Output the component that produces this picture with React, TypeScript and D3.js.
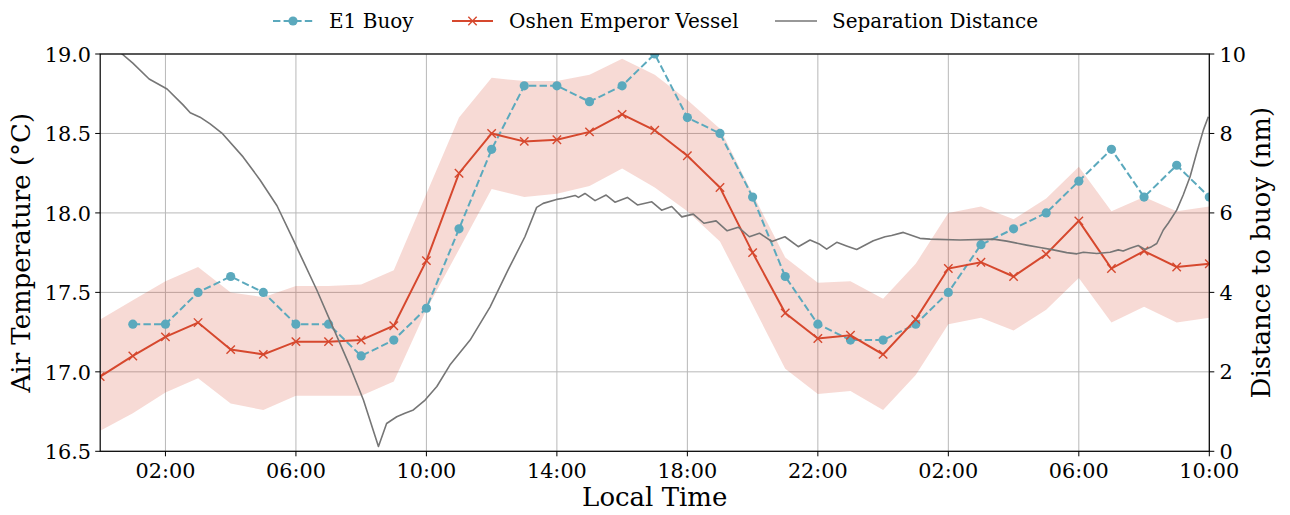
import React from "react";
import * as d3 from "d3";

// ---- data ----
const vesselHours = [0,1,2,3,4,5,6,7,8,9,10,11,12,13,14,15,16,17,18,19,20,21,22,23,24,25,26,27,28,29,30,31,32,33,34];
const vesselTemp = [16.97,17.10,17.22,17.31,17.14,17.11,17.19,17.19,17.20,17.29,17.70,18.25,18.50,18.45,18.46,18.51,18.62,18.52,18.36,18.16,17.75,17.37,17.21,17.23,17.11,17.33,17.65,17.69,17.60,17.74,17.95,17.65,17.76,17.66,17.68];
const bandUpper = [17.33,17.45,17.57,17.66,17.50,17.47,17.54,17.54,17.55,17.64,18.12,18.60,18.85,18.83,18.83,18.87,18.97,18.87,18.71,18.53,18.12,17.72,17.56,17.57,17.46,17.68,18.00,18.04,17.96,18.09,18.29,18.01,18.10,18.01,18.04];
const bandLower = [16.63,16.74,16.87,16.96,16.80,16.76,16.85,16.85,16.85,16.94,17.39,17.77,18.15,18.10,18.12,18.17,18.28,18.16,18.01,17.82,17.42,17.02,16.86,16.88,16.76,16.98,17.30,17.34,17.26,17.39,17.59,17.31,17.41,17.31,17.34];

const buoyHours = [1,2,3,4,5,6,7,8,9,10,11,12,13,14,15,16,17,18,19,20,21,22,23,24,25,26,27,28,29,30,31,32,33,34];
const buoyTemp = [17.3,17.3,17.5,17.6,17.5,17.3,17.3,17.1,17.2,17.4,17.9,18.4,18.8,18.8,18.7,18.8,19.0,18.6,18.5,18.1,17.6,17.3,17.2,17.2,17.3,17.5,17.8,17.9,18.0,18.2,18.4,18.1,18.3,18.1];

const sepHours = [0,0.67,1.0,1.5,2.05,2.54,2.76,3.06,3.37,3.73,4.38,4.9,5.42,5.92,6.21,6.64,7.04,7.66,8.07,8.53,8.78,9.09,9.34,9.6,9.96,10.32,10.72,11.34,11.95,12.5,13.02,13.38,13.58,13.99,14.2,14.56,14.66,14.86,15.17,15.51,15.78,16.16,16.47,16.91,17.21,17.52,17.83,18.18,18.51,18.88,19.22,19.56,19.9,20.21,20.59,20.99,21.4,21.76,22.06,22.27,22.58,22.88,23.19,23.7,24.06,24.26,24.62,25.13,25.44,26.36,27.38,27.79,28.4,28.81,29.22,29.63,29.94,30.14,30.55,30.96,31.21,31.36,31.57,31.82,32.03,32.23,32.39,32.59,32.74,33.0,33.2,33.41,33.61,33.82,33.97];
const sepNm = [10.45,10.0,9.77,9.37,9.12,8.72,8.52,8.41,8.24,8.01,7.41,6.83,6.18,5.32,4.81,4.06,3.30,2.13,1.29,0.12,0.70,0.87,0.96,1.04,1.29,1.63,2.17,2.80,3.63,4.56,5.40,6.14,6.24,6.34,6.37,6.44,6.39,6.49,6.31,6.45,6.27,6.39,6.20,6.28,6.07,6.16,5.90,5.97,5.74,5.80,5.55,5.64,5.40,5.49,5.28,5.40,5.15,5.32,5.21,5.09,5.26,5.17,5.08,5.30,5.40,5.43,5.51,5.36,5.34,5.32,5.34,5.29,5.19,5.13,5.07,5.00,4.97,5.01,4.98,5.01,5.07,5.04,5.11,5.18,5.08,5.15,5.23,5.57,5.74,6.07,6.45,6.91,7.50,8.09,8.42];

const xTickHours = [2,6,10,14,18,22,26,30,34];
const xTickLabels = ["02:00","06:00","10:00","14:00","18:00","22:00","02:00","06:00","10:00"];
const leftTicks = [16.5,17.0,17.5,18.0,18.5,19.0];
const rightTicks = [0,2,4,6,8,10];

const W = 1290, H = 515;
const X0 = 100.2, X1 = 1209.3, Y0 = 54, Y1 = 451.3;
const BUOY = "#5ba9bd";
const VESSEL = "#d6482e";
const GRAY = "#767676";
const FONT = "DejaVu Serif";

export default function App() {
  const x = d3.scaleLinear().domain([0, 34]).range([X0, X1]);
  const yL = d3.scaleLinear().domain([16.5, 19]).range([Y1, Y0]);
  const yR = d3.scaleLinear().domain([0, 10]).range([Y1, Y0]);

  const area = d3.area<number>()
    .x((_, i) => x(vesselHours[i]))
    .y0((_, i) => yL(bandLower[i]))
    .y1((d) => yL(d));
  const vesselLine = d3.line<number>().x((_, i) => x(vesselHours[i])).y((d) => yL(d));
  const buoyLine = d3.line<number>().x((_, i) => x(buoyHours[i])).y((d) => yL(d));
  const sepLine = d3.line<number>().x((_, i) => x(sepHours[i])).y((d) => yR(d));

  const ms = 4.2;
  return (
    <svg width={W} height={H} style={{ position: "absolute", left: 0, top: 0, background: "#fff" }} fontFamily={FONT}>
      <defs>
        <clipPath id="plotclip">
          <rect x={X0} y={Y0} width={X1 - X0} height={Y1 - Y0} />
        </clipPath>
      </defs>
      {/* grid */}
      {xTickHours.map((h, i) => (
        <line key={"gx" + i} x1={x(h)} x2={x(h)} y1={Y0} y2={Y1} stroke="#b8b8b8" strokeWidth={1} />
      ))}
      {leftTicks.map((t, i) => (
        <line key={"gy" + i} x1={X0} x2={X1} y1={yL(t)} y2={yL(t)} stroke="#b8b8b8" strokeWidth={1} />
      ))}
      <g clipPath="url(#plotclip)">
        <path d={area(bandUpper) || ""} fill={VESSEL} fillOpacity={0.2} stroke="none" />
        <path d={buoyLine(buoyTemp) || ""} fill="none" stroke={BUOY} strokeWidth={2} strokeDasharray="7.4,3.2" />
        {buoyTemp.map((v, i) => (
          <circle key={"b" + i} cx={x(buoyHours[i])} cy={yL(v)} r={4.6} fill={BUOY} />
        ))}
        <path d={vesselLine(vesselTemp) || ""} fill="none" stroke={VESSEL} strokeWidth={2} />
        {vesselTemp.map((v, i) => {
          const cx = x(vesselHours[i]), cy = yL(v);
          return (
            <g key={"v" + i} stroke={VESSEL} strokeWidth={1.4}>
              <line x1={cx - ms} y1={cy - ms} x2={cx + ms} y2={cy + ms} />
              <line x1={cx - ms} y1={cy + ms} x2={cx + ms} y2={cy - ms} />
            </g>
          );
        })}
        <path d={sepLine(sepNm) || ""} fill="none" stroke={GRAY} strokeWidth={1.6} strokeLinejoin="round" />
      </g>
      {/* spines */}
      <rect x={X0} y={Y0} width={X1 - X0} height={Y1 - Y0} fill="none" stroke="#000" strokeWidth={1.2} />
      {/* x ticks */}
      {xTickHours.map((h, i) => (
        <g key={"xt" + i}>
          <line x1={x(h)} x2={x(h)} y1={Y1} y2={Y1 + 5} stroke="#000" strokeWidth={1} />
          <text x={x(h)} y={477.5} textAnchor="middle" fontSize={20.8} fill="#000">{xTickLabels[i]}</text>
        </g>
      ))}
      {leftTicks.map((t, i) => (
        <g key={"yt" + i}>
          <line x1={X0 - 5} x2={X0} y1={yL(t)} y2={yL(t)} stroke="#000" strokeWidth={1} />
          <text x={91} y={yL(t) + 7.8} textAnchor="end" fontSize={20.8} fill="#000">{t.toFixed(1)}</text>
        </g>
      ))}
      {rightTicks.map((t, i) => (
        <g key={"rt" + i}>
          <line x1={X1} x2={X1 + 5} y1={yR(t)} y2={yR(t)} stroke="#000" strokeWidth={1} />
          <text x={1219.5} y={yR(t) + 7.5} textAnchor="start" fontSize={20.8} fill="#000">{t}</text>
        </g>
      ))}
      {/* axis labels */}
      <text x={(X0 + X1) / 2} y={506} textAnchor="middle" fontSize={26} fill="#000">Local Time</text>
      <text transform={`translate(30,${(Y0 + Y1) / 2}) rotate(-90)`} textAnchor="middle" fontSize={26} fill="#000">Air Temperature (°C)</text>
      <text transform={`translate(1270,${(Y0 + Y1) / 2}) rotate(-90)`} textAnchor="middle" fontSize={26} fill="#000">Distance to buoy (nm)</text>
      {/* legend */}
      <g>
        <line x1={273} x2={313} y1={21} y2={21} stroke={BUOY} strokeWidth={2} strokeDasharray="7.4,3.2" />
        <circle cx={293} cy={21} r={4.6} fill={BUOY} />
        <text x={329} y={28} fontSize={20} fill="#000">E1 Buoy</text>
        <line x1={452} x2={493} y1={21} y2={21} stroke={VESSEL} strokeWidth={2} />
        <g stroke={VESSEL} strokeWidth={1.4}>
          <line x1={472.5 - ms} y1={21 - ms} x2={472.5 + ms} y2={21 + ms} />
          <line x1={472.5 - ms} y1={21 + ms} x2={472.5 + ms} y2={21 - ms} />
        </g>
        <text x={509} y={28} fontSize={20} fill="#000">Oshen Emperor Vessel</text>
        <line x1={775} x2={817} y1={21} y2={21} stroke={GRAY} strokeWidth={1.6} />
        <text x={832} y={28} fontSize={20} fill="#000">Separation Distance</text>
      </g>
    </svg>
  );
}
